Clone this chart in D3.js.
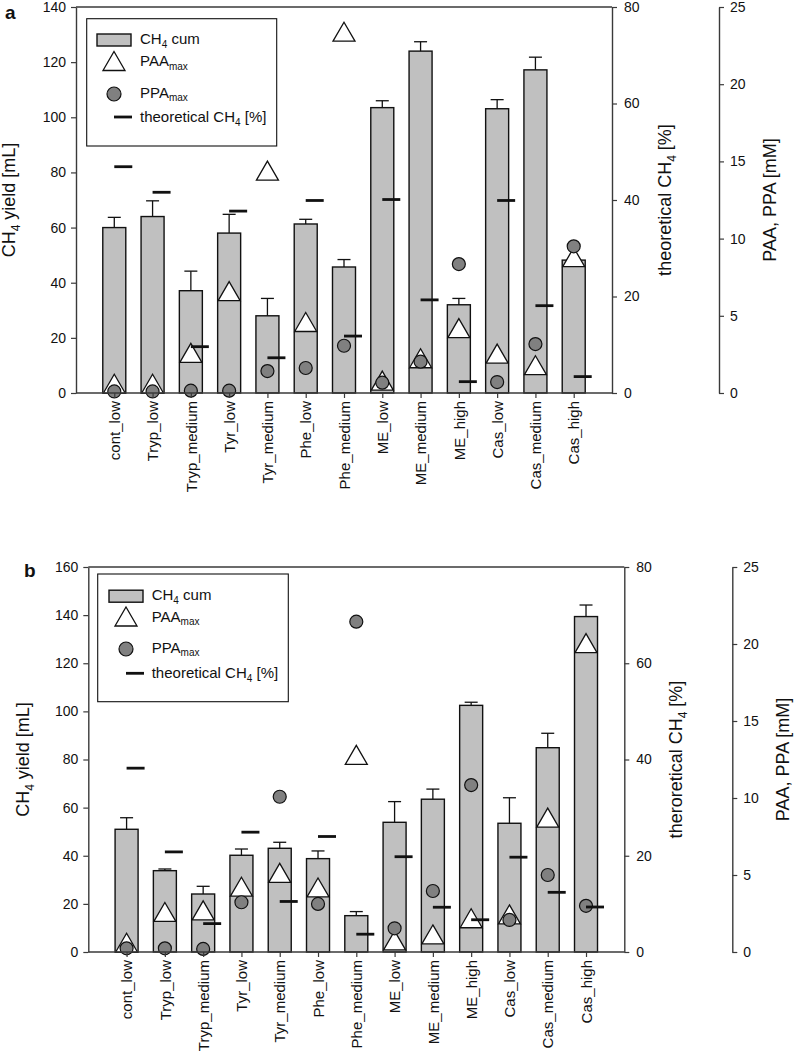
<!DOCTYPE html>
<html><head><meta charset="utf-8">
<script src="https://cdn.jsdelivr.net/npm/d3@7"></script>
<style>body{margin:0;background:#fff} svg{display:block} text{font-family:"Liberation Sans",Arial,sans-serif}</style>
</head><body>
<svg id="c" width="797" height="1054"></svg>
<script>
const categories = ["cont_low","Tryp_low","Tryp_medium","Tyr_low","Tyr_medium","Phe_low","Phe_medium","ME_low","ME_medium","ME_high","Cas_low","Cas_medium","Cas_high"];
// panel a
const aYield    = [60, 64, 37.1, 58, 28, 61.3, 45.7, 103.5, 124, 32, 103.1, 117.2, 48.2];
const aYieldErr = [63.7, 69.7, 44.2, 64.8, 34.3, 63, 48.4, 106, 127.4, 34.3, 106.4, 121.8, 48.5];
const aTheo     = [46.9, 41.6, 9.6, 37.7, 7.3, 39.9, 11.8, 40.1, 19.3, 2.35, 39.9, 18.1, 3.4];
const aPAA      = [0.6, 0.6, 2.6, 6.6, 14.4, 4.6, 23.4, 0.8, 2.25, 4.2, 2.55, 1.8, 8.8];
const aPPA      = [0.1, 0.1, 0.15, 0.15, 1.42, 1.62, 3.06, 0.67, 2.03, 8.35, 0.71, 3.17, 9.5];
// panel b
const bYield    = [51, 33.8, 24.1, 40.2, 43.1, 38.8, 15.1, 53.9, 63.5, 102.5, 53.5, 84.9, 139.4];
const bYieldErr = [55.8, 34.5, 27.3, 42.8, 45.6, 42, 16.8, 62.5, 67.7, 103.8, 64.1, 90.9, 144.2];
const bTheo     = [38.2, 20.8, 5.9, 24.9, 10.5, 24.0, 3.7, 19.8, 9.3, 6.7, 19.7, 12.4, 9.35];
const bPAA      = [0.6, 2.6, 2.7, 4.24, 5.14, 4.19, 12.8, 0.75, 1.14, 2.19, 2.44, 8.73, 20.06];
const bPPA      = [0.24, 0.24, 0.2, 3.23, 10.08, 3.12, 21.45, 1.54, 3.96, 10.84, 2.08, 5.0, 3.0];
// ticks
const aYTicks = [0,20,40,60,80,100,120,140];
const bYTicks = [0,20,40,60,80,100,120,140,160];
const theoTicks = [0,20,40,60,80];
const paaTicks = [0,5,10,15,20,25];

const svg = d3.select("#c");
const AX = "#3a3a3a";

function triPath(){ return "M0,-9.5L11,9.5L-11,9.5Z"; }

function drawPanel(o){
  const g = svg.append("g");
  const x = d3.scalePoint().domain(categories).range([o.left, o.right]).padding(1);
  const y = d3.scaleLinear().domain([0, o.yMax]).range([o.bottom, o.top]);
  const yT = d3.scaleLinear().domain([0, 80]).range([o.bottom, o.top]);
  const yP = d3.scaleLinear().domain([0, 25]).range([o.bottom, o.top]);
  const bw = 23;

  // top frame line
  g.append("line").attr("x1", o.left).attr("x2", o.right).attr("y1", y(o.yMax)).attr("y2", y(o.yMax))
    .attr("stroke", AX).attr("stroke-width", 1.4);

  // bars
  g.selectAll("rect.bar").data(categories).enter().append("rect")
    .attr("x", c => x(c) - bw/2).attr("width", bw)
    .attr("y", (c,i) => y(o.yield[i])).attr("height", (c,i) => y(0) - y(o.yield[i]))
    .attr("fill", "#c0c0c0").attr("stroke", "#111").attr("stroke-width", 1.4);
  // error bars
  categories.forEach((c,i) => {
    if (o.err[i] > o.yield[i] + 0.3) {
      g.append("line").attr("x1", x(c)).attr("x2", x(c)).attr("y1", y(o.yield[i])).attr("y2", y(o.err[i]))
        .attr("stroke", "#111").attr("stroke-width", 1.3);
      g.append("line").attr("x1", x(c)-6.5).attr("x2", x(c)+6.5).attr("y1", y(o.err[i])).attr("y2", y(o.err[i]))
        .attr("stroke", "#111").attr("stroke-width", 1.3);
    }
  });
  // triangles
  g.selectAll("path.tri").data(categories).enter().append("path")
    .attr("d", triPath()).attr("transform", (c,i) => `translate(${x(c)},${yP(o.paa[i])})`)
    .attr("fill", "#fff").attr("stroke", "#111").attr("stroke-width", 1.3);
  // circles
  g.selectAll("circle.ppa").data(categories).enter().append("circle")
    .attr("cx", c => x(c)).attr("cy", (c,i) => yP(o.ppa[i])).attr("r", 6.5)
    .attr("fill", "#808080").attr("stroke", "#111").attr("stroke-width", 1.2);
  // theoretical dashes
  g.selectAll("line.theo").data(categories).enter().append("line")
    .attr("x1", c => x(c)).attr("x2", c => x(c) + 18)
    .attr("y1", (c,i) => yT(o.theo[i])).attr("y2", (c,i) => yT(o.theo[i]))
    .attr("stroke", "#111").attr("stroke-width", 2.8);

  // axes
  const styleAxis = sel => {
    sel.selectAll(".domain").attr("stroke", AX).attr("stroke-width", 1.4);
    sel.selectAll(".tick line").attr("stroke", AX).attr("stroke-width", 1.2);
    sel.selectAll("text").attr("fill", "#111").attr("font-size", 14).attr("font-family", '"Liberation Sans",Arial,sans-serif');
  };
  g.append("g").attr("transform", `translate(${o.left},0)`)
    .call(d3.axisLeft(y).tickValues(o.yTicks).tickSize(5).tickSizeOuter(0).tickPadding(5)).call(styleAxis);
  g.append("g").attr("transform", `translate(${o.right},0)`)
    .call(d3.axisRight(yT).tickValues(theoTicks).tickSize(5).tickSizeOuter(0).tickPadding(7)).call(styleAxis);
  g.append("g").attr("transform", `translate(${o.axis3},0)`)
    .call(d3.axisRight(yP).tickValues(paaTicks).tickSize(5).tickSizeOuter(0).tickPadding(6)).call(styleAxis);
  const xa = g.append("g").attr("transform", `translate(0,${o.bottom})`)
    .call(d3.axisBottom(x).tickSize(5).tickSizeOuter(0)).call(styleAxis);
  xa.selectAll(".domain").attr("d", `M${o.left},0H${o.right}`);
  xa.selectAll("text").attr("font-size", 15).attr("transform", "rotate(-90)")
    .attr("text-anchor", "end").attr("x", -8).attr("y", 0).attr("dy", "0.35em");

  // axis titles
  const title = (tx, ty, parts) => {
    const t = g.append("text").attr("transform", `translate(${tx},${ty}) rotate(-90)`)
      .attr("text-anchor", "middle").attr("font-size", 18).attr("fill", "#111");
    parts.forEach(p => {
      const s = t.append("tspan").text(p[0]);
      if (p[1] === "sub") s.attr("font-size", 12).attr("dy", 5);
      if (p[1] === "up") s.attr("dy", -5);
    });
  };
  const mid = (o.top + o.bottom)/2;
  title(o.lblL, mid, [["CH"],["4","sub"],[" yield [mL]","up"]]);
  title(o.lblR, mid, [[o.theoWord + " CH"],["4","sub"],[" [%]","up"]]);
  title(o.lbl3, mid, [["PAA, PPA [mM]"]]);

  // panel letter
  g.append("text").attr("x", o.letterX).attr("y", o.letterY).attr("font-family", '"Liberation Serif","Times New Roman",serif')
    .attr("font-weight", "bold").attr("font-size", 19).attr("fill", "#111").text(o.letter);

  // legend
  const L = o.leg;
  g.append("rect").attr("x", L.x).attr("y", L.y).attr("width", L.w).attr("height", L.h)
    .attr("fill", "#fff").attr("stroke", "#111").attr("stroke-width", 1.1);
  const sx = L.x + L.sym, tx = L.x + L.txt;
  g.append("rect").attr("x", sx - 17).attr("y", L.y + L.r1 - 6).attr("width", 34).attr("height", 12)
    .attr("fill", "#c0c0c0").attr("stroke", "#111").attr("stroke-width", 1.4);
  g.append("path").attr("d", triPath()).attr("transform", `translate(${sx},${L.y + L.r2})`)
    .attr("fill", "#fff").attr("stroke", "#111").attr("stroke-width", 1.3);
  g.append("circle").attr("cx", sx).attr("cy", L.y + L.r3).attr("r", 7)
    .attr("fill", "#808080").attr("stroke", "#111").attr("stroke-width", 1.2);
  g.append("line").attr("x1", sx).attr("x2", sx + 18).attr("y1", L.y + L.r4).attr("y2", L.y + L.r4)
    .attr("stroke", "#111").attr("stroke-width", 2.8);
  const ltext = (yy, parts) => {
    const t = g.append("text").attr("x", tx).attr("y", yy).attr("font-size", 15).attr("fill", "#111");
    parts.forEach(p => {
      const s = t.append("tspan").text(p[0]);
      if (p[1] === "sub") s.attr("font-size", 10).attr("dy", 3.5);
      if (p[1] === "up") s.attr("dy", -3.5);
    });
  };
  ltext(L.y + L.r1 + 4.2, [["CH"],["4","sub"],[" cum","up"]]);
  ltext(L.y + L.r2 + 5.2, [["PAA"],["max","sub"]]);
  ltext(L.y + L.r3 + 3.5, [["PPA"],["max","sub"]]);
  ltext(L.y + L.r4 + 5, [["theoretical CH"],["4","sub"],[" [%]","up"]]);
}

drawPanel({
  left: 76, right: 612, top: 7, bottom: 393, axis3: 719, yMax: 140, yTicks: aYTicks,
  yield: aYield, err: aYieldErr, theo: aTheo, paa: aPAA, ppa: aPPA,
  lblL: 15, lblR: 671, lbl3: 776, theoWord: "theoretical",
  letter: "a", letterX: 5, letterY: 18.5,
  leg: {x: 86.7, y: 18.7, w: 190, h: 127.3, sym: 27.3, txt: 53.3, r1: 21.3, r2: 42.3, r3: 75.3, r4: 98.3}
});
drawPanel({
  left: 88.3, right: 624.3, top: 567, bottom: 952, axis3: 732.3, yMax: 160, yTicks: bYTicks,
  yield: bYield, err: bYieldErr, theo: bTheo, paa: bPAA, ppa: bPPA,
  lblL: 29, lblR: 682, lbl3: 789, theoWord: "theroretical",
  letter: "b", letterX: 24, letterY: 577,
  leg: {x: 97.7, y: 574, w: 190.6, h: 127.7, sym: 28.3, txt: 54, r1: 22.2, r2: 42.5, r3: 75, r4: 99.3}
});
</script>
</body></html>
